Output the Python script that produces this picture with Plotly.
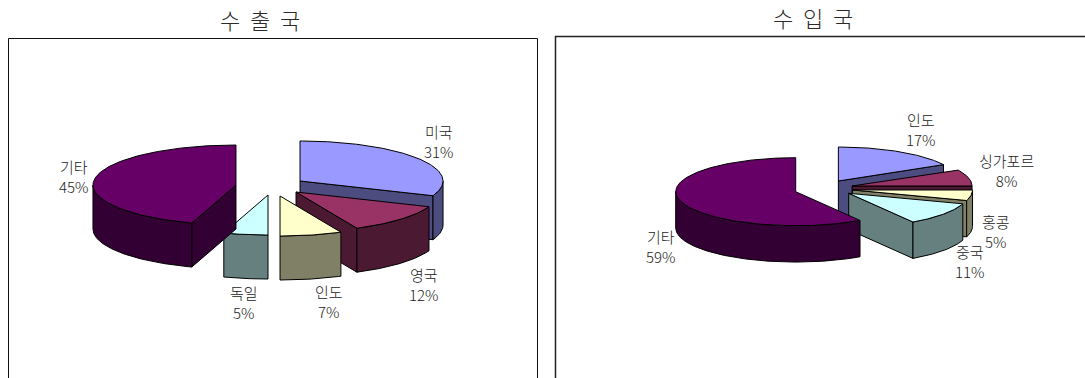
import numpy as np
import plotly.graph_objects as go

WIDTH, HEIGHT = 1085, 378

# Export destinations
export_names = ["미국", "영국", "인도", "독일", "기타"]
export_values = [31, 12, 7, 5, 45]

# Import sources
import_names = ["인도", "싱가포르", "홍콩", "중국", "기타"]
import_values = [17, 8, 5, 11, 59]

export_title = "수\u00a0\u00a0출\u00a0\u00a0국"
import_title = "수\u00a0\u00a0입\u00a0\u00a0국"

# Excel-style palette: top faces and their shaded walls
export_top = ["#9999FF", "#993366", "#FFFFCC", "#CCFFFF", "#660066"]
export_wall = ["#4C4C80", "#4C1933", "#808066", "#668080", "#330033"]
import_top = ["#9999FF", "#993366", "#FFFFCC", "#CCFFFF", "#660066"]
import_wall = ["#4C4C80", "#4C1933", "#808066", "#668080", "#330033"]

# Panel and pie geometry in pixels; slice offsets are in pie radii
export_view = dict(panel=(8, 537), cx=265, cy=187, rx=143, ry=40, depth=1.1)
import_view = dict(panel=(555, 1085), cx=820, cy=187, rx=120, ry=34, depth=1.07)
export_pull = [(.245, .15), (.217, -.125), (.105, -.225), (.021, -.2), (-.203, .05)]
import_pull = [(.153, .176), (.267, .03), (.271, -.088), (.239, -.185), (-.2025, -.138)]

# Label centres in pixels
export_label_at = [(439, 142), (424, 284), (329, 301), (244, 302), (74, 176)]
import_label_at = [(921, 129), (1006, 170), (996, 231), (970, 261), (661, 246)]

FRAME_TOP = 38
FAMILY = "Noto Sans CJK KR, Noto Sans, sans-serif"
LABEL_FONT = dict(family=FAMILY, size=15, color="#1A1A1A", weight=300)
TITLE_FONT = dict(family=FAMILY, size=22, color="#2A2A2A", weight=300)


def arc(start, end, ox, oy, drop=0.0):
    """Points on the unit circle, clockwise from 12 o'clock, angles in degrees."""
    t = np.radians(np.linspace(start, end, max(2, int(abs(end - start)) + 2)))
    return ox + np.sin(t), oy + np.cos(t) - drop


def add_poly(fig, xs, ys, color, axes):
    fig.add_trace(go.Scatter(
        x=list(xs), y=list(ys), mode="lines", fill="toself", fillcolor=color,
        line=dict(color="#000000", width=1), hoverinfo="skip", showlegend=False,
        xaxis=axes[0], yaxis=axes[1],
    ))


def add_wedge(fig, start, end, pull, top, wall, depth, axes):
    ox, oy = pull

    # Radial cut faces turned toward the viewer
    for angle, visible in ((start, np.sin(np.radians(start)) < -1e-6),
                           (end, np.sin(np.radians(end)) > 1e-6)):
        if visible:
            ex, ey = arc(angle, angle, ox, oy)
            add_poly(fig, [ox, ex[0], ex[0], ox, ox],
                     [oy, ey[0], ey[0] - depth, oy - depth, oy], wall, axes)

    # Outer rim, only the part on the near half of the pie
    lo, hi = max(start, 90), min(end, 270)
    if lo < hi:
        ax, ay = arc(lo, hi, ox, oy)
        bx, by = arc(hi, lo, ox, oy, depth)
        add_poly(fig, np.r_[ax, bx, ax[0]], np.r_[ay, by, ay[0]], wall, axes)

    # Top face
    ax, ay = arc(start, end, ox, oy)
    add_poly(fig, np.r_[ox, ax, ox], np.r_[oy, ay, oy], top, axes)


def add_pie(fig, values, pulls, tops, walls, view, axes):
    angles = np.r_[0, np.cumsum(values)] * 360 / sum(values)
    # Back slices first; the last slice is painted over the others
    for i in range(len(values)):
        add_wedge(fig, angles[i], angles[i + 1], pulls[i], tops[i], walls[i],
                  view["depth"], axes)


def axis_setup(view):
    left, right = view["panel"]
    x_range = [(left - view["cx"]) / view["rx"], (right - view["cx"]) / view["rx"]]
    y_range = [(view["cy"] - HEIGHT) / view["ry"], (view["cy"] - FRAME_TOP) / view["ry"]]
    hidden = dict(visible=False, fixedrange=True, showgrid=False, zeroline=False)
    xa = dict(domain=[left / WIDTH, right / WIDTH], range=x_range, **hidden)
    ya = dict(domain=[0, (HEIGHT - FRAME_TOP) / HEIGHT], range=y_range, **hidden)
    return xa, ya


fig = go.Figure()
add_pie(fig, export_values, export_pull, export_top, export_wall, export_view, ("x", "y"))
add_pie(fig, import_values, import_pull, import_top, import_wall, import_view, ("x2", "y2"))

xa1, ya1 = axis_setup(export_view)
xa2, ya2 = axis_setup(import_view)
ya1["anchor"] = "x"
ya2["anchor"] = "x2"
xa2["anchor"] = "y2"


def px_annotation(x, y, text, font):
    return dict(x=x / WIDTH, y=1 - y / HEIGHT, xref="paper", yref="paper", text=text,
                showarrow=False, font=font, xanchor="center", yanchor="middle", align="center")


annotations = [px_annotation(260, 19, export_title, TITLE_FONT),
               px_annotation(813, 17, import_title, TITLE_FONT)]
for names, values, spots in ((export_names, export_values, export_label_at),
                             (import_names, import_values, import_label_at)):
    for name, value, (x, y) in zip(names, values, spots):
        annotations.append(px_annotation(x, y, f"{name}<br>{value}%", LABEL_FONT))

frames = [
    dict(type="rect", xref="paper", yref="paper", x0=8.5 / WIDTH, x1=537.5 / WIDTH,
         y0=-0.1, y1=1 - 38.5 / HEIGHT, line=dict(color="#111111", width=1), layer="below"),
    dict(type="rect", xref="paper", yref="paper", x0=555.5 / WIDTH, x1=1.02,
         y0=-0.1, y1=1 - 36.5 / HEIGHT, line=dict(color="#222222", width=1.5), layer="below"),
]

fig.update_layout(
    width=WIDTH, height=HEIGHT, margin=dict(l=0, r=0, t=0, b=0),
    paper_bgcolor="white", plot_bgcolor="rgba(0,0,0,0)", showlegend=False,
    xaxis=xa1, yaxis=ya1, xaxis2=xa2, yaxis2=ya2,
    annotations=annotations, shapes=frames,
)

fig.write_html("out.html", config=dict(displayModeBar=False))
